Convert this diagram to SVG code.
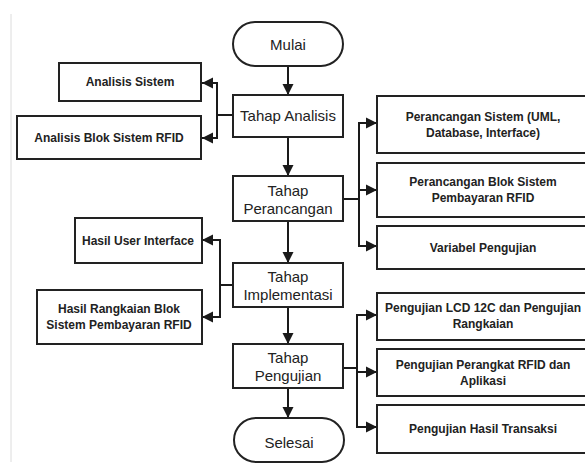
<svg xmlns="http://www.w3.org/2000/svg" width="585" height="465" viewBox="0 0 585 465">
<defs>
<marker id="arr" markerUnits="userSpaceOnUse" markerWidth="12" markerHeight="12" viewBox="0 0 12 12" refX="11" refY="6" orient="auto">
<path d="M0,0.5 L11,6 L0,11.5 Z" fill="#1a1a1a"/>
</marker>
<style>
.box{fill:#fff;stroke:#222;stroke-width:2}
.main{font-family:"Liberation Sans",Arial,sans-serif;font-size:15px;fill:#222;text-anchor:middle}
.side{font-family:"Liberation Sans",Arial,sans-serif;font-size:12px;font-weight:bold;fill:#222;text-anchor:middle}
.ln{fill:none;stroke:#1a1a1a;stroke-width:2}
.la{fill:none;stroke:#1a1a1a;stroke-width:2;marker-end:url(#arr)}
</style>
</defs>
<rect width="585" height="465" fill="#fff"/>
<line x1="11" y1="14" x2="11" y2="462" stroke="#dcdcdc" stroke-width="1"/>
<g id="connectors">
<path class="la" d="M288,66 V95"/>
<path class="la" d="M288,137 V176"/>
<path class="la" d="M288,221 V263"/>
<path class="la" d="M288,307 V344"/>
<path class="la" d="M288,388 V418"/>
<path class="ln" d="M233,115 H217"/>
<path class="la" d="M217,115 V83 H202"/>
<path class="la" d="M217,115 V138 H202"/>
<path class="ln" d="M233,285 H220"/>
<path class="la" d="M220,285 V240 H202"/>
<path class="la" d="M220,285 V317 H202"/>
<path class="ln" d="M343,199 H359"/>
<path class="la" d="M359,199 V123 H377"/>
<path class="la" d="M359,199 V190 H377"/>
<path class="la" d="M359,199 V246 H377"/>
<path class="ln" d="M343,368 H357"/>
<path class="la" d="M357,368 V315 H377"/>
<path class="la" d="M357,368 V372 H377"/>
<path class="la" d="M357,368 V427 H377"/>
</g>
<g id="mulai"><rect class="box" x="233" y="22" width="110" height="44" rx="22"/><text class="main" x="288" y="49.5">Mulai</text></g>
<g id="analisis"><rect class="box" x="233" y="95" width="110" height="42"/><text class="main" x="288" y="121">Tahap Analisis</text></g>
<g id="perancangan"><rect class="box" x="233" y="176" width="110" height="45"/><text class="main" x="288" y="195.5">Tahap</text><text class="main" x="288" y="213.5">Perancangan</text></g>
<g id="implementasi"><rect class="box" x="233" y="263" width="110" height="44"/><text class="main" x="288" y="281.5">Tahap</text><text class="main" x="288" y="299.5">Implementasi</text></g>
<g id="pengujian"><rect class="box" x="233" y="344" width="110" height="44"/><text class="main" x="288" y="362.5">Tahap</text><text class="main" x="288" y="380.5">Pengujian</text></g>
<g id="selesai"><rect class="box" x="234" y="418" width="110" height="44" rx="22"/><text class="main" x="289" y="448">Selesai</text></g>
<g id="analisis-sistem"><rect class="box" x="59" y="63" width="142" height="38"/><text class="side" x="130" y="86.3">Analisis Sistem</text></g>
<g id="analisis-blok"><rect class="box" x="17" y="116" width="184" height="43"/><text class="side" x="109" y="142">Analisis Blok Sistem RFID</text></g>
<g id="hasil-ui"><rect class="box" x="75" y="218" width="127" height="45"/><text class="side" x="138" y="244.5">Hasil User Interface</text></g>
<g id="hasil-rangkaian"><rect class="box" x="37" y="290" width="165" height="54"/><text class="side" x="119" y="313">Hasil Rangkaian Blok</text><text class="side" x="119" y="328.5">Sistem Pembayaran RFID</text></g>
<g id="perancangan-sistem"><rect class="box" x="377" y="96" width="215" height="57"/><text class="side" x="483" y="121">Perancangan Sistem (UML,</text><text class="side" x="483" y="137">Database, Interface)</text></g>
<g id="perancangan-blok"><rect class="box" x="377" y="163" width="215" height="54"/><text class="side" x="483" y="186">Perancangan Blok Sistem</text><text class="side" x="483" y="201.5">Pembayaran RFID</text></g>
<g id="variabel"><rect class="box" x="377" y="226" width="215" height="43"/><text class="side" x="483" y="251.5">Variabel Pengujian</text></g>
<g id="uji-lcd"><rect class="box" x="377" y="293" width="215" height="47"/><text class="side" x="483" y="312">Pengujian LCD 12C dan Pengujian</text><text class="side" x="483" y="327.5">Rangkaian</text></g>
<g id="uji-rfid"><rect class="box" x="377" y="349" width="215" height="47"/><text class="side" x="483" y="369">Pengujian Perangkat RFID dan</text><text class="side" x="483" y="384.5">Aplikasi</text></g>
<g id="uji-transaksi"><rect class="box" x="377" y="405" width="215" height="48"/><text class="side" x="483" y="432.5">Pengujian Hasil Transaksi</text></g>
</svg>
